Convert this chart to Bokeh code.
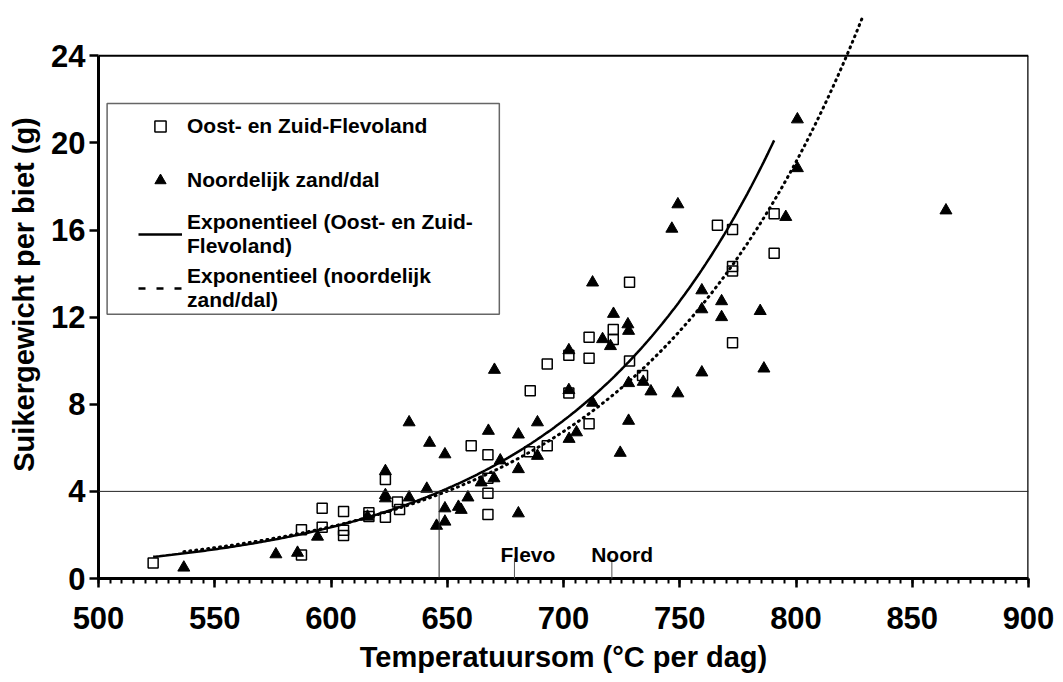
import numpy as np
from bokeh.plotting import figure
from bokeh.models import (Range1d, Span, Legend, LegendItem, Label, BoxAnnotation,
                          Arrow, FixedTicker, Title)
from bokeh.embed import file_html
from bokeh.resources import INLINE

# ---------------- data ----------------
flevo_x = [523.5, 587.3, 587.3, 596.2, 596.2, 605.4, 605.4, 605.4, 616.3, 616.3,
           623.4, 623.4, 628.6, 629.5, 660.3, 667.5, 667.5, 667.5, 667.5, 685.4,
           685.7, 693.0, 693.0, 702.3, 702.3, 711.0, 711.0, 711.0, 721.4, 721.4,
           728.4, 728.4, 734.0, 766.2, 772.7, 772.7, 772.7, 772.7, 790.6, 790.6]
flevo_y = [0.71, 1.08, 2.24, 3.23, 2.35, 3.08, 2.21, 1.98, 3.02, 2.85,
           4.55, 2.81, 3.51, 3.17, 6.09, 5.68, 4.60, 3.91, 2.94, 5.82,
           8.62, 9.85, 6.09, 10.25, 8.52, 11.08, 10.11, 7.10, 11.43, 10.97,
           13.60, 9.99, 9.32, 16.22, 16.03, 14.33, 14.12, 10.83, 16.75, 14.93]

noord_x = [536.7, 576.3, 585.6, 594.2, 615.7, 623.4, 623.4, 623.4, 633.6, 633.6,
           641.2, 642.4, 645.4, 649.0, 649.0, 649.0, 654.8, 656.0, 658.9, 664.6,
           667.7, 670.1, 670.3, 672.8, 680.6, 680.6, 680.6, 688.8, 688.8, 702.3,
           702.3, 702.4, 705.6, 712.5, 712.5, 716.8, 720.2, 721.5, 724.4, 727.7,
           728.0, 728.0, 728.0, 734.3, 737.6, 746.6, 749.2, 749.2, 759.5, 759.5,
           759.5, 768.0, 768.0, 784.6, 786.2, 795.6, 800.6, 800.6, 864.5]
noord_y = [0.50, 1.11, 1.18, 1.92, 2.84, 4.93, 3.83, 3.68, 3.72, 7.17,
           4.12, 6.23, 2.42, 5.70, 3.22, 2.61, 3.29, 3.15, 3.72, 4.41,
           6.78, 4.60, 9.58, 5.42, 6.61, 5.02, 2.99, 7.17, 5.63, 10.48,
           8.65, 6.41, 6.71, 13.59, 8.07, 10.99, 10.67, 12.15, 5.77, 11.67,
           11.37, 8.97, 7.24, 9.03, 8.59, 16.06, 17.18, 8.50, 13.23, 12.36,
           9.46, 12.73, 12.00, 12.28, 9.64, 16.60, 21.08, 18.84, 16.90]

x_ticks = [500, 550, 600, 650, 700, 750, 800, 850, 900]
y_ticks = [0, 4, 8, 12, 16, 20, 24]

# exponential trend lines y = a * exp(b * x)
flevo_trend_a, flevo_trend_b = 2.738e-3, 0.01126
noord_trend_a, noord_trend_b = 4.597e-3, 0.010417
noord_trend_end = 828.5

threshold = 4.0          # horizontal reference line (g)
cross_x = 646.5          # temperature sum where the trend reaches the threshold
flevo_mark_x = 678.9
noord_mark_x = 720.8

FONT = "Liberation Sans"

# ---------------- figure ----------------
p = figure(width=1063, height=682,
           x_range=Range1d(500, 900), y_range=Range1d(0, 26.08),
           output_backend="svg", toolbar_location=None,
           min_border_left=98, min_border_right=35,
           min_border_top=10, min_border_bottom=104)
p.outline_line_color = None
p.grid.grid_line_color = None
p.background_fill_color = "white"
p.border_fill_color = "white"

# axes
xa = p.xaxis[0]
xa.ticker = FixedTicker(ticks=x_ticks, minor_ticks=list(np.arange(500, 901, 5)))
xa.axis_line_width = 3
xa.axis_line_color = "black"
xa.major_tick_in = 0
xa.major_tick_out = 9
xa.major_tick_line_width = 2.5
xa.minor_tick_in = 0
xa.minor_tick_out = 5
xa.minor_tick_line_width = 2
xa.major_label_text_font = FONT
xa.major_label_text_font_style = "bold"
xa.major_label_text_font_size = "31px"
xa.major_label_text_color = "black"
xa.major_label_standoff = 19

ya = p.yaxis[0]
ya.ticker = FixedTicker(ticks=y_ticks)
ya.bounds = (0, 24)
ya.axis_line_width = 3
ya.axis_line_color = "black"
ya.major_tick_in = 0
ya.major_tick_out = 9
ya.major_tick_line_width = 2.5
ya.minor_tick_line_color = None
ya.major_label_text_font = FONT
ya.major_label_text_font_style = "bold"
ya.major_label_text_font_size = "31px"
ya.major_label_text_color = "black"
ya.major_label_standoff = 4
ya.axis_label = "Suikergewicht per biet (g)"
ya.axis_label_text_font = FONT
ya.axis_label_text_font_style = "bold"
ya.axis_label_text_font_size = "29px"
ya.axis_label_text_color = "black"
ya.axis_label_standoff = 8

# x axis title (shifted right like the reference)
p.add_layout(Title(text="Temperatuursom (°C per dag)", align="center", offset=18,
                   text_font=FONT, text_font_style="bold", text_font_size="29px",
                   text_color="black", standoff=14, text_line_height=0.9), "below")

# frame top and right edges
p.add_layout(Arrow(end=None, x_start=500, y_start=24, x_end=900, y_end=24,
                   line_width=2, line_color="black"))
p.add_layout(Arrow(end=None, x_start=900, y_start=0, x_end=900, y_end=24,
                   line_width=2.5, line_color="black"))

# reference lines
p.add_layout(Span(location=threshold, dimension="width", line_width=1, line_color="#222222"))
p.add_layout(Arrow(end=None, x_start=cross_x, y_start=0, x_end=cross_x, y_end=threshold,
                   line_width=1, line_color="#222222"))
p.add_layout(Arrow(end=None, x_start=flevo_mark_x, y_start=0.93, x_end=flevo_mark_x, y_end=-1.7,
                   line_width=1, line_color="#555555"))
p.add_layout(Arrow(end=None, x_start=noord_mark_x, y_start=0.93, x_end=noord_mark_x, y_end=-1.7,
                   line_width=1, line_color="#555555"))

# trend lines
fx = np.linspace(min(flevo_x), max(flevo_x), 300)
fy = flevo_trend_a * np.exp(flevo_trend_b * fx)
nx = np.linspace(min(noord_x), noord_trend_end, 300)
ny = noord_trend_a * np.exp(noord_trend_b * nx)

r_fl_line = p.line(fx, fy, line_width=2.5, line_color="black")
p.line(nx, ny, line_width=3, line_color="black", line_dash="1 5", line_cap="round")
# legend sample for the northern trend (drawn dashed in the legend, as in the reference)
r_no_leg = p.line([nx[0]], [ny[0]], line_width=2.5, line_color="black", line_dash="7 11")

# points
r_sq = p.scatter(flevo_x, flevo_y, marker="square", size=10, fill_color=None,
                 line_color="black", line_width=1.5)
r_tri = p.scatter(noord_x, noord_y, marker="triangle", size=12, fill_color="black",
                  line_color="black", line_width=1)

# legend box
p.add_layout(BoxAnnotation(left=503.7, right=672.4, top=21.81, bottom=12.13,
                           fill_alpha=0, line_color="#666666", line_alpha=1, line_width=1.5))

legend = Legend(items=[
    LegendItem(label="Oost- en Zuid-Flevoland", renderers=[r_sq]),
    LegendItem(label="Noordelijk zand/dal", renderers=[r_tri]),
    LegendItem(label="Exponentieel (Oost- en Zuid-\nFlevoland)", renderers=[r_fl_line]),
    LegendItem(label="Exponentieel (noordelijk\nzand/dal)", renderers=[r_no_leg]),
], location=(40, 265), orientation="vertical",
   glyph_width=44, glyph_height=28, label_height=50, label_standoff=5,
   spacing=4, padding=0, margin=0,
   border_line_color=None, background_fill_alpha=0,
   label_text_font=FONT, label_text_font_style="bold",
   label_text_font_size="21px", label_text_color="black",
   label_text_line_height=1.1)
p.add_layout(legend)

# texts
for txt, xx in (("Flevo", 672.9), ("Noord", 711.9)):
    p.add_layout(Label(x=xx, y=1.12, text=txt, text_align="left", text_baseline="alphabetic",
                       text_font=FONT, text_font_style="bold", text_font_size="21px",
                       text_color="black"))

open("out.html", "w").write(file_html(p, INLINE))
